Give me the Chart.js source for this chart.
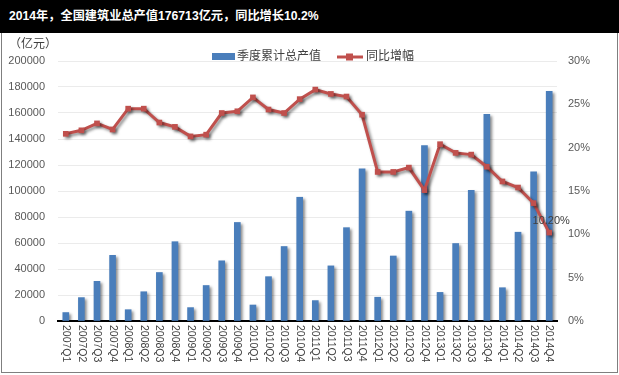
<!DOCTYPE html>
<html><head><meta charset="utf-8">
<script src="https://cdn.jsdelivr.net/npm/chart.js@4/dist/chart.umd.min.js"></script>
<style>
html,body{margin:0;padding:0;background:#fff;width:619px;height:375px;overflow:hidden}
#title{position:absolute;left:0;top:0;width:619px;height:33px;background:#000;color:#fff;font:bold 12.2px "Liberation Sans","Noto Sans CJK SC",sans-serif;line-height:33px;padding-left:9px;box-sizing:border-box;white-space:nowrap}
#frame{position:absolute;left:1px;top:33px;width:617px;height:340px;border:1px solid #7f7f7f;border-top:none;box-sizing:border-box}
#c{position:absolute;left:2px;top:34px}
</style></head>
<body>
<div id="title">2014年，全国建筑业总产值176713亿元，同比增长10.2%</div>
<div id="frame"></div>
<canvas id="c" width="615" height="337"></canvas>
<script>
const categories = ['2007Q1','2007Q2','2007Q3','2007Q4','2008Q1','2008Q2','2008Q3','2008Q4',
  '2009Q1','2009Q2','2009Q3','2009Q4','2010Q1','2010Q2','2010Q3','2010Q4',
  '2011Q1','2011Q2','2011Q3','2011Q4','2012Q1','2012Q2','2012Q3','2012Q4',
  '2013Q1','2013Q2','2013Q3','2013Q4','2014Q1','2014Q2','2014Q3','2014Q4'];
const outputValues = [6500,18000,30500,50500,8700,22500,37300,61000,
  10300,27300,46300,75800,12300,34100,57300,95200,
  15700,42400,71800,117000,18300,50000,84500,135000,
  22000,59600,100600,159000,25600,68300,114800,176713];
const growthRates = [21.6,22.0,22.8,22.1,24.5,24.5,22.9,22.4,
  21.3,21.5,24.0,24.2,25.8,24.4,24.0,25.6,
  26.7,26.2,25.9,23.8,17.2,17.2,17.7,15.1,
  20.4,19.4,19.2,17.8,16.1,15.4,13.6,10.2];
const leftAxisMax = 200000, leftAxisStep = 20000;
const rightAxisMax = 30, rightAxisStep = 5;
const seriesNames = ['季度累计总产值','同比增幅'];
const unitLabel = '（亿元）';

const FONT = "'Liberation Sans','Noto Sans CJK SC',sans-serif";
Chart.defaults.font.family = FONT;

const extras = {
  id: 'extras',
  beforeDatasetsDraw(chart) {
    const ctx = chart.ctx;
    ctx.save();
    ctx.shadowColor = 'rgba(0,0,0,0.45)';
    ctx.shadowBlur = 3;
    ctx.shadowOffsetX = 2;
    ctx.shadowOffsetY = 2;
  },
  afterDatasetsDraw(chart) {
    chart.ctx.restore();
  },
  afterDraw(chart) {
    const ctx = chart.ctx;
    const xs = chart.scales.x;
    const area = chart.chartArea;
    ctx.save();
    ctx.fillStyle = '#404040';
    ctx.font = '10.5px ' + FONT;
    ctx.textAlign = 'left';
    ctx.textBaseline = 'middle';
    categories.forEach((lab, i) => {
      const x = xs.getPixelForTick(i);
      ctx.save();
      ctx.translate(x, area.bottom + 4);
      ctx.rotate(Math.PI / 2);
      ctx.fillText(lab, 0, 0);
      ctx.restore();
    });
    ctx.restore();
    ctx.save();
    ctx.fillStyle = '#404040';
    ctx.font = '12px ' + FONT;
    ctx.textAlign = 'left';
    ctx.textBaseline = 'middle';
    ctx.fillText(unitLabel, 7, 11);
    const ds = chart.data.datasets;
    const ly = 23;
    ctx.fillStyle = ds[0].backgroundColor;
    ctx.fillRect(210, ly - 4, 23, 7);
    ctx.fillStyle = '#404040';
    ctx.fillText(ds[0].label, 235, ly);
    ctx.strokeStyle = ds[1].borderColor;
    ctx.lineWidth = 3;
    ctx.beginPath(); ctx.moveTo(335, ly); ctx.lineTo(361, ly); ctx.stroke();
    ctx.fillStyle = ds[1].borderColor;
    ctx.fillRect(344, ly - 3.5, 7, 7);
    ctx.fillStyle = '#404040';
    ctx.fillText(ds[1].label, 364, ly);
    const meta = chart.getDatasetMeta(1);
    const last = meta.data[meta.data.length - 1];
    ctx.font = '11px ' + FONT;
    ctx.textAlign = 'center';
    ctx.fillStyle = '#404040';
    ctx.fillText(growthRates[growthRates.length - 1].toFixed(2) + '%', last.x + 2, last.y - 12);
    ctx.restore();
  }
};

new Chart(document.getElementById('c'), {
  data: {
    labels: categories,
    datasets: [
      {type: 'bar', label: seriesNames[0], data: outputValues, yAxisID: 'y',
       backgroundColor: '#4a7ebb', borderWidth: 0, barThickness: 6, order: 2},
      {type: 'line', label: seriesNames[1], data: growthRates, yAxisID: 'y1',
       borderColor: '#c0504d', backgroundColor: '#c0504d', borderWidth: 3,
       pointStyle: 'rect', pointRadius: 4, pointBackgroundColor: '#c0504d',
       pointBorderWidth: 0, tension: 0, order: 1}
    ]
  },
  options: {
    responsive: false, animation: false, devicePixelRatio: 1,
    layout: {padding: {top: 27, left: 0, right: 0, bottom: 0}},
    plugins: {legend: {display: false}, tooltip: {enabled: false}},
    scales: {
      x: {offset: true, grid: {display: false},
          border: {display: true, color: '#000', width: 2},
          ticks: {autoSkip: false, minRotation: 90, maxRotation: 90, color: 'rgba(0,0,0,0)', font: {size: 10.5}},
          afterFit(s) { s.height = 50; }},
      y: {position: 'left', min: 0, max: leftAxisMax,
          ticks: {stepSize: leftAxisStep, color: '#595959', font: {size: 11}, padding: 13,
                  callback: v => String(v)},
          grid: {color: '#ebebeb', drawTicks: false}, border: {display: false},
          afterFit(s) { s.width = 56; }},
      y1: {position: 'right', min: 0, max: rightAxisMax,
          ticks: {stepSize: rightAxisStep, color: '#595959', font: {size: 11}, padding: 11,
                  callback: v => v + '%'},
          grid: {display: false, drawTicks: false}, border: {display: false},
          afterFit(s) { s.width = 60; }}
    }
  },
  plugins: [extras]
});
</script>
</body></html>
